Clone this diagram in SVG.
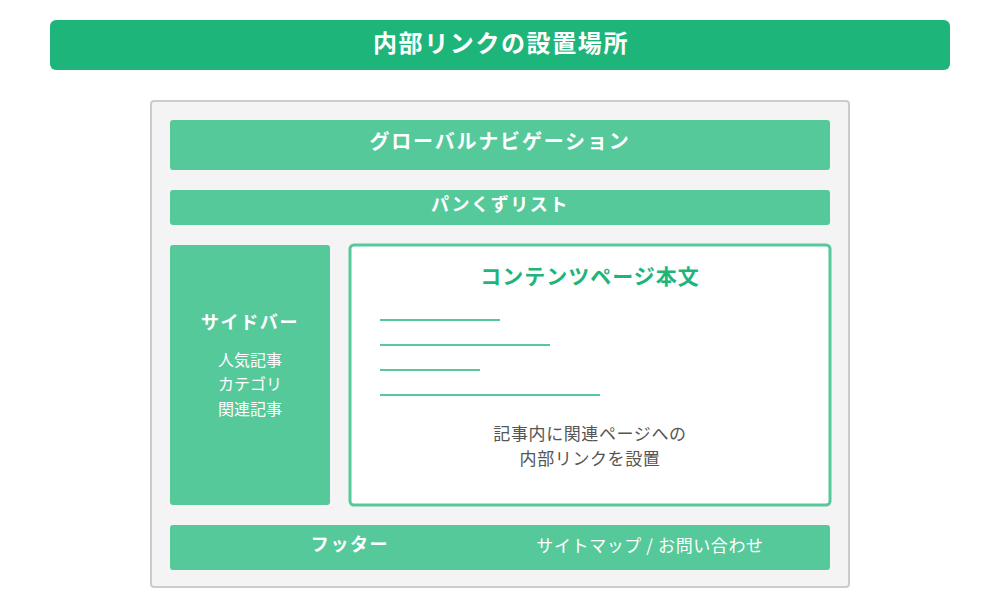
<svg xmlns="http://www.w3.org/2000/svg" width="1000" height="600" viewBox="0 0 1000 600">
<style>
text{font-family:"Noto Sans CJK JP","Noto Sans",sans-serif;text-anchor:middle}
.blk{fill:#56C99B}
.wb{fill:#ffffff;font-weight:bold}
.w{fill:#ffffff}
.ln{stroke:#56C99B;stroke-width:2}
</style>
<rect width="1000" height="600" fill="#ffffff"/>
<g id="title">
<rect x="50" y="20" width="900" height="50" rx="6" fill="#1EB57A"/>
<text x="501" y="52" class="wb" font-size="24" letter-spacing="1.6">内部リンクの設置場所</text>
</g>
<g id="page">
<rect x="151" y="101" width="698" height="486" rx="3" fill="#F4F4F4" stroke="#CCCCCC" stroke-width="2"/>
</g>
<g id="globalnav">
<rect x="170" y="120" width="660" height="50" rx="3" class="blk"/>
<text x="500" y="149" class="wb" font-size="20" letter-spacing="1.8">グローバルナビゲーション</text>
</g>
<g id="breadcrumb">
<rect x="170" y="190" width="660" height="35" rx="3" class="blk"/>
<text x="500" y="211" class="wb" font-size="18" letter-spacing="1.6">パンくずリスト</text>
</g>
<g id="sidebar">
<rect x="170" y="245" width="160" height="260" rx="3" class="blk"/>
<text x="250" y="329" class="wb" font-size="18" letter-spacing="1.6">サイドバー</text>
<text x="250" y="366" class="w" font-size="16">人気記事</text>
<text x="250" y="390" class="w" font-size="16">カテゴリ</text>
<text x="250" y="415" class="w" font-size="16">関連記事</text>
</g>
<g id="content">
<rect x="350" y="245" width="480" height="260" rx="4" fill="#ffffff" stroke="#56C99B" stroke-width="3"/>
<text x="590" y="284" font-size="21" font-weight="bold" fill="#1EB57A" letter-spacing="1">コンテンツページ本文</text>
<line x1="380" y1="320" x2="500" y2="320" class="ln"/>
<line x1="380" y1="345" x2="550" y2="345" class="ln"/>
<line x1="380" y1="370" x2="480" y2="370" class="ln"/>
<line x1="380" y1="395" x2="600" y2="395" class="ln"/>
<text x="590" y="440" font-size="17" fill="#555555" letter-spacing="0.6">記事内に関連ページへの</text>
<text x="590" y="465" font-size="17" fill="#555555" letter-spacing="0.6">内部リンクを設置</text>
</g>
<g id="footer">
<rect x="170" y="525" width="660" height="45" rx="3" class="blk"/>
<text x="350" y="551" class="wb" font-size="18" letter-spacing="1.6">フッター</text>
<text x="650" y="552" class="w" font-size="17" letter-spacing="0.6">サイトマップ / お問い合わせ</text>
</g>
<g id="connectors"></g>
</svg>
